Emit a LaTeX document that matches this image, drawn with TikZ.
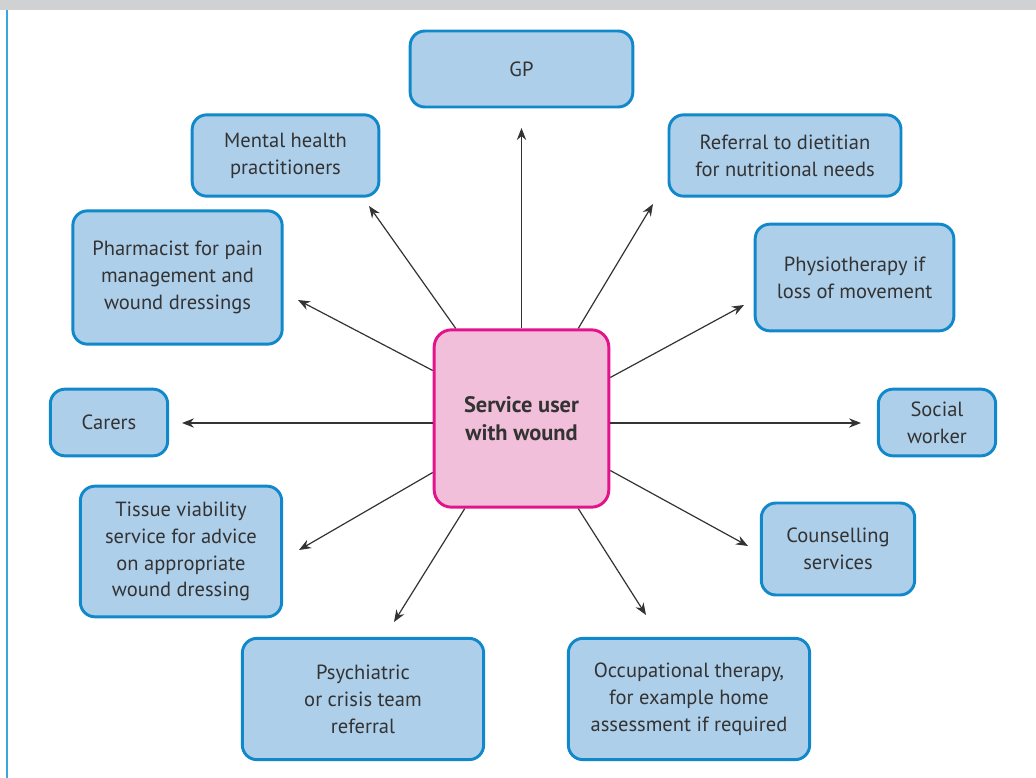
\documentclass[tikz,border=0pt]{standalone}
\usepackage{fontspec}
\setmainfont{PT Sans}
\usetikzlibrary{arrows.meta}
\definecolor{boxfill}{RGB}{174,207,234}
\definecolor{boxline}{RGB}{16,136,202}
\definecolor{hubfill}{RGB}{241,191,218}
\definecolor{hubline}{RGB}{227,19,140}
\definecolor{bargray}{RGB}{208,209,211}
\definecolor{sideblue}{RGB}{58,166,220}
\definecolor{ink}{RGB}{51,51,51}
\begin{document}
\begin{tikzpicture}[x=0.75pt,y=-0.75pt,
  every node/.style={font=\fontsize{15.4}{20.2}\selectfont, text=ink, align=center, inner sep=0pt},
  carebox/.style={draw=boxline, fill=boxfill, line width=2.2pt, rounded corners=11pt},
  hub/.style={draw=hubline, fill=hubfill, line width=2.2pt, rounded corners=13pt,
    minimum width=131pt, minimum height=133pt, font=\fontsize{16.8}{20.5}\selectfont\bfseries},
  link/.style={draw=ink, line width=0.9pt, -{Stealth[length=9pt,width=7pt]}}]
\useasboundingbox (0,0) rectangle (1036,778);
% page furniture
\fill[bargray] (0,0) rectangle (1036,10);
\draw[sideblue, line width=1.6pt] (7,10) -- (7,778);

% hub
\node[hub] (hub) at (521.5,418.5) {Service user\\with wound};

% surrounding services
\node[carebox, minimum width=167pt, minimum height=57pt] (gp) at (521.5,69) {GP};
\node[carebox, minimum width=140pt, minimum height=61pt] (mental) at (285.5,155.5) {Mental health\\practitioners};
\node[carebox, minimum width=174pt, minimum height=61pt] (diet) at (785,155.5) {Referral to dietitian\\for nutritional needs};
\node[carebox, minimum width=157pt, minimum height=100pt] (pharm) at (177.5,277.5) {Pharmacist for pain\\management and\\wound dressings};
\node[carebox, minimum width=149pt, minimum height=80pt] (physio) at (854.5,277.5) {Physiotherapy if\\loss of movement};
\node[carebox, minimum width=88pt, minimum height=50pt] (carers) at (109,422.5) {Carers};
\node[carebox, minimum width=88pt, minimum height=50pt] (social) at (937,422.5) {Social\\worker};
\node[carebox, minimum width=151pt, minimum height=98pt] (tissue) at (181,551.5) {Tissue viability\\service for advice\\on appropriate\\wound dressing};
\node[carebox, minimum width=115pt, minimum height=69pt] (counsel) at (838,549) {Counselling\\services};
\node[carebox, minimum width=181pt, minimum height=91pt] (psych) at (363,699) {Psychiatric\\or crisis team\\referral};
\node[carebox, minimum width=181pt, minimum height=91pt] (occ) at (689,699) {Occupational therapy,\\for example home\\assessment if required};

% arrow tips
\coordinate (tgp) at (521.5,128);
\coordinate (tmental) at (369,206);
\coordinate (tdiet) at (653,204);
\coordinate (tpharm) at (298,300);
\coordinate (tphysio) at (744,305);
\coordinate (tcarers) at (182,423);
\coordinate (tsocial) at (861,423);
\coordinate (ttissue) at (299,550);
\coordinate (tcounsel) at (748,546);
\coordinate (tpsych) at (394,622);
\coordinate (tocc) at (646,615);

% connectors
\draw[link] (hub.north) -- (tgp);
\draw[link] (hub.north west) ++(23,0) -- (tmental);
\draw[link] (hub.north east) ++(-32,0) -- (tdiet);
\draw[link] (hub.west) ++(0,-48) -- (tpharm);
\draw[link] (hub.east) ++(0,-41) -- (tphysio);
\draw[link] (hub.west) ++(0,4.5) -- (tcarers);
\draw[link] (hub.east) ++(0,4.5) -- (tsocial);
\draw[link] (hub.west) ++(0,54) -- (ttissue);
\draw[link] (hub.east) ++(0,52) -- (tcounsel);
\draw[link] (hub.south west) ++(32,0) -- (tpsych);
\draw[link] (hub.south east) ++(-32,0) -- (tocc);
\end{tikzpicture}
\end{document}
